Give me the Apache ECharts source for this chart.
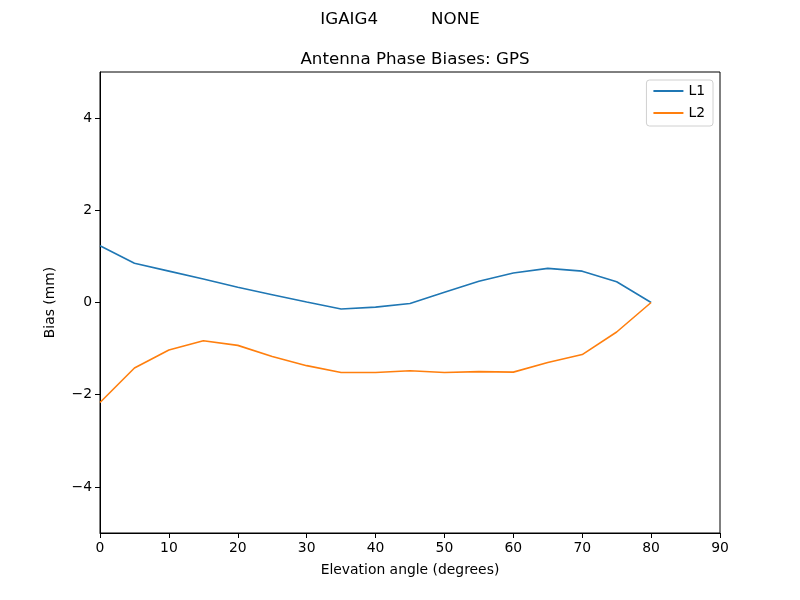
<!DOCTYPE html>
<html>
<head>
<meta charset="utf-8">
<script src="https://cdn.jsdelivr.net/npm/echarts@6/dist/echarts.min.js"></script>
<style>html,body{margin:0;padding:0;background:#fff}#c{width:800px;height:600px}</style>
</head>
<body>
<div id="c"></div>
<script>
const elevation = [0,5,10,15,20,25,30,35,40,45,50,55,60,65,70,75,80];
const l1 = [1.23,0.85,0.68,0.51,0.33,0.17,0.01,-0.14,-0.10,-0.02,0.22,0.46,0.64,0.74,0.68,0.45,0.0];
const l2 = [-2.17,-1.42,-1.03,-0.83,-0.93,-1.17,-1.37,-1.52,-1.52,-1.48,-1.52,-1.50,-1.51,-1.30,-1.13,-0.64,0.0];
const yTicks = [-4,-2,0,2,4];
const xTicks = [0,10,20,30,40,50,60,70,80,90];

const font = 'DejaVu Sans';
const fmt = v => String(v).replace('-', '\u2212');
const chart = echarts.init(document.getElementById('c'));
chart.setOption({
  animation: false,
  backgroundColor: '#fff',
  textStyle: {fontFamily: font},
  title: [
    {text: 'IGAIG4          NONE', left: 'center', top: 6, textStyle: {fontFamily: font, fontSize: 16.7, fontWeight: 'normal', color: '#000'}},
    {text: 'Antenna Phase Biases: GPS', left: 410, textAlign: 'center', top: 46, textStyle: {fontFamily: font, fontSize: 16.7, fontWeight: 'normal', color: '#000'}}
  ],
  grid: {left: 100, right: 80, top: 72, bottom: 67, show: true, borderColor: '#000', borderWidth: 1, backgroundColor: 'transparent'},
  legend: {
    orient: 'vertical', right: 87, top: 80, icon: 'rect', itemWidth: 30, itemHeight: 2, itemGap: 8,
    borderColor: '#d0d0d0', borderWidth: 1, borderRadius: 3, padding: [4, 8, 6, 7],
    textStyle: {fontFamily: font, fontSize: 13.9, color: '#000'},
    data: ['L1', 'L2']
  },
  xAxis: {
    type: 'value', min: 0, max: 90, interval: 10,
    name: 'Elevation angle (degrees)', nameLocation: 'middle', nameGap: 30,
    nameTextStyle: {fontFamily: font, fontSize: 13.9, color: '#000'},
    axisLine: {show: true, onZero: false, lineStyle: {color: '#000'}},
    axisTick: {show: true, length: 5, lineStyle: {color: '#000'}},
    axisLabel: {fontFamily: font, fontSize: 13.9, color: '#000', margin: 8, formatter: fmt},
    splitLine: {show: false}
  },
  yAxis: {
    type: 'value', min: -5, max: 5,
    name: 'Bias (mm)', nameLocation: 'middle', nameGap: 43,
    nameTextStyle: {fontFamily: font, fontSize: 13.9, color: '#000'},
    axisLine: {show: true, onZero: false, lineStyle: {color: '#000'}},
    axisTick: {show: true, length: 5, customValues: yTicks, lineStyle: {color: '#000'}},
    axisLabel: {fontFamily: font, fontSize: 13.9, color: '#000', margin: 8, customValues: yTicks, formatter: fmt},
    splitLine: {show: false}
  },
  series: [
    {name: 'L1', type: 'line', data: elevation.map((x, i) => [x, l1[i]]), showSymbol: false, lineStyle: {color: '#1f77b4', width: 1.6}, itemStyle: {color: '#1f77b4'}},
    {name: 'L2', type: 'line', data: elevation.map((x, i) => [x, l2[i]]), showSymbol: false, lineStyle: {color: '#ff7f0e', width: 1.6}, itemStyle: {color: '#ff7f0e'}}
  ]
});
</script>
</body>
</html>
